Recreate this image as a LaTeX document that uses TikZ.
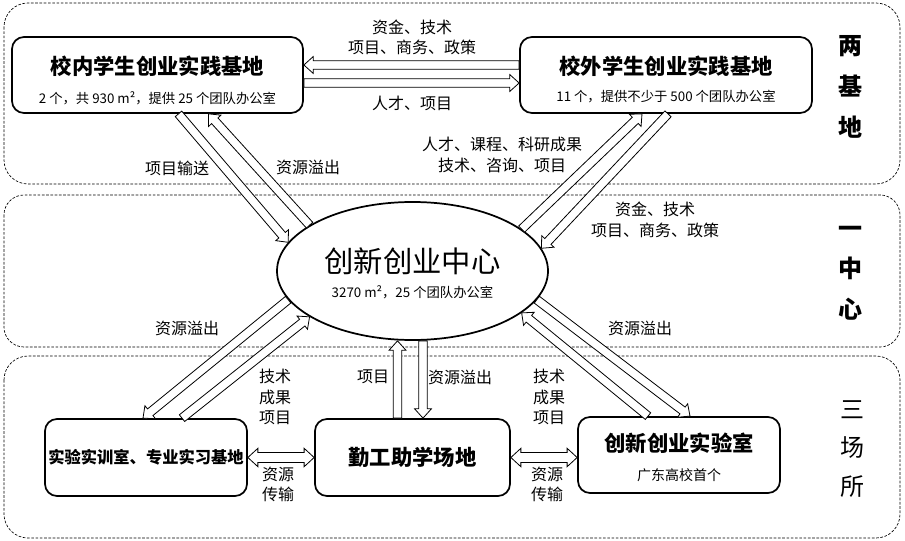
\documentclass[tikz,border=0pt]{standalone}
\usepackage{fontspec}
\setmainfont{Noto Sans CJK SC}
\usetikzlibrary{calc,shapes.geometric}

\newcommand\flowshaft{3.2pt}
\newcommand\flowwide{6.3pt}
\newcommand\flowhead{7pt}

% hollow block arrow from #1 to #2
\newcommand\flowarrow[2]{%
	\coordinate (fs) at #1;
	\coordinate (ft) at #2;
	\coordinate (fn) at ($(ft)!\flowhead!(fs)$);
	\draw[flow] ($(fs)!\flowshaft!90:(ft)$) -- ($(fn)!\flowshaft!90:(ft)$) -- ($(fn)!\flowwide!90:(ft)$) -- (ft)
		-- ($(fn)!\flowwide!-90:(ft)$) -- ($(fn)!\flowshaft!-90:(ft)$) -- ($(fs)!\flowshaft!-90:(ft)$) -- cycle;}

% hollow block arrow with a head at both ends
\newcommand\flowboth[2]{%
	\coordinate (fs) at #1;
	\coordinate (ft) at #2;
	\coordinate (fm) at ($(fs)!\flowhead!(ft)$);
	\coordinate (fn) at ($(ft)!\flowhead!(fs)$);
	\draw[flow] (fs) -- ($(fm)!\flowwide!90:(ft)$) -- ($(fm)!\flowshaft!90:(ft)$) -- ($(fn)!\flowshaft!90:(ft)$)
		-- ($(fn)!\flowwide!90:(ft)$) -- (ft) -- ($(fn)!\flowwide!-90:(ft)$) -- ($(fn)!\flowshaft!-90:(ft)$)
		-- ($(fm)!\flowshaft!-90:(ft)$) -- ($(fm)!\flowwide!-90:(ft)$) -- cycle;}

\begin{document}
\begin{tikzpicture}[x=0.75pt,y=-0.75pt,
	region/.style={draw,dashed,dash pattern=on 2pt off 1.2pt,line width=0.5pt,rounded corners=#1},
	site/.style={draw,line width=1.3pt,rounded corners=9pt,fill=white,inner sep=0pt},
	hub/.style={ellipse,draw,line width=1.3pt,fill=white,inner sep=0pt,minimum width=203.25pt,minimum height=103.5pt},
	flow/.style={draw,fill=white,line width=0.6pt},
	headline/.style={font=\bfseries\fontsize{16pt}{16pt}\selectfont,inner sep=0pt},
	note/.style={font=\fontsize{10pt}{12pt}\selectfont,inner sep=0pt},
	tag/.style={font=\fontsize{12pt}{15.5pt}\selectfont,align=center,inner sep=0pt},
	side/.style={font=\bfseries\fontsize{18pt}{30.5pt}\selectfont,align=center,inner sep=0pt}]

	\useasboundingbox (0,0) rectangle (905,541);

	% three zones
	\draw[region=18pt] (4,3) rectangle (900,184);
	\draw[region=15pt] (4,195) rectangle (900,347);
	\draw[region=18pt] (4,356) rectangle (900,538);

	\node[site,minimum width=218.25pt,minimum height=57pt] (inner) at (157.5,75) {};
	\node[site,minimum width=219pt,minimum height=57pt] (outer) at (666,75) {};
	\node[hub] (hub) at (412.5,271) {};
	\node[site,minimum width=151.5pt,minimum height=57.75pt,font=\bfseries\fontsize{12.2pt}{14pt}\selectfont] (lab) at (146,457.5) {实验实训室、专业实习基地};
	\node[site,minimum width=146.25pt,minimum height=57.75pt,font=\bfseries\fontsize{16pt}{16pt}\selectfont] (work) at (412.5,457.5) {勤工助学场地};
	\node[site,minimum width=151.5pt,minimum height=57pt] (maker) at (679,455) {};

	\node[headline] (inner-t) at ($(inner)+(0,-8.3)$) {校内学生创业实践基地};
	\node[note] (inner-s) at ($(inner)+(0,23)$) {2 个，共 930 m²，提供 25 个团队办公室};
	\node[headline] (outer-t) at ($(outer)+(0,-8.3)$) {校外学生创业实践基地};
	\node[note] (outer-s) at ($(outer)+(0,22)$) {11 个，提供不少于 500 个团队办公室};
	\node[font=\fontsize{22pt}{22pt}\selectfont,inner sep=0pt] (hub-t) at ($(hub)+(0,-10)$) {创新创业中心};
	\node[note] (hub-s) at ($(hub)+(0,21)$) {3270 m²，25 个团队办公室};
	\node[headline] (maker-t) at ($(maker)+(0,-12)$) {创新创业实验室};
	\node[note,font=\fontsize{10.5pt}{12pt}\selectfont] (maker-s) at ($(maker)+(0,20)$) {广东高校首个};

	% flows
	\flowarrow{($(outer.west)+(0,-10)$)}{($(inner.east)+(0,-10)$)}
	\flowarrow{($(inner.east)+(0,8)$)}{($(outer.west)+(0,8)$)}
	\flowarrow{($(inner.south)+(21,0)$)}{(hub.167)}
	\flowarrow{(hub.156)}{($(inner.south)+(51,0)$)}
	\flowarrow{(hub.21)}{($(outer.south)+(-24,0)$)}
	\flowarrow{($(outer.south)+(2,0)$)}{(hub.10)}
	\flowarrow{(hub.193)}{($(lab.north)+(-3,0)$)}
	\flowarrow{($(lab.north)+(36,0)$)}{(hub.204)}
	\flowarrow{(hub.347)}{($(maker.north)+(11,0)$)}
	\flowarrow{($(maker.north)+(-31,0)$)}{(hub.339)}
	\flowarrow{($(work.north)+(-15,0)$)}{($(hub.south)+(-15,0)$)}
	\flowarrow{($(hub.south)+(10.5,0)$)}{($(work.north)+(10.5,0)$)}
	{\renewcommand\flowshaft{3.8pt}\renewcommand\flowwide{6.9pt}\renewcommand\flowhead{7.5pt}
	\flowboth{(lab.east)}{(work.west)}
	\flowboth{(work.east)}{(work.east -| maker.west)}}

	\node[tag] (fund1) at (412,37.5) {资金、技术\\项目、商务、政策};
	\node[tag] (talent1) at (412,103) {人才、项目};
	\node[tag] (send) at (177,168) {项目输送};
	\node[tag] (spill1) at (308,167) {资源溢出};
	\node[tag] (talent2) at (502,155) {人才、课程、科研成果\\技术、咨询、项目};
	\node[tag] (fund2) at (655,220) {资金、技术\\项目、商务、政策};
	\node[tag] (spill2) at (187,328) {资源溢出};
	\node[tag] (spill3) at (640,328) {资源溢出};
	\node[tag] (tech1) at (275,397) {技术\\成果\\项目};
	\node[tag] (tech2) at (549,397) {技术\\成果\\项目};
	\node[tag] (proj) at (373,377) {项目};
	\node[tag] (spill4) at (460,377) {资源溢出};
	\node[tag] (move1) at (278,484.5) {资源\\传输};
	\node[tag] (move2) at (547,484.5) {资源\\传输};

	\node[side] (two) at (850,87) {两\\基\\地};
	\node[side] (one) at (850,273) {一\\中\\心};
	\node[side,font=\fontsize{18pt}{29pt}\selectfont] (three) at (852,449) {三\\场\\所};
\end{tikzpicture}
\end{document}
